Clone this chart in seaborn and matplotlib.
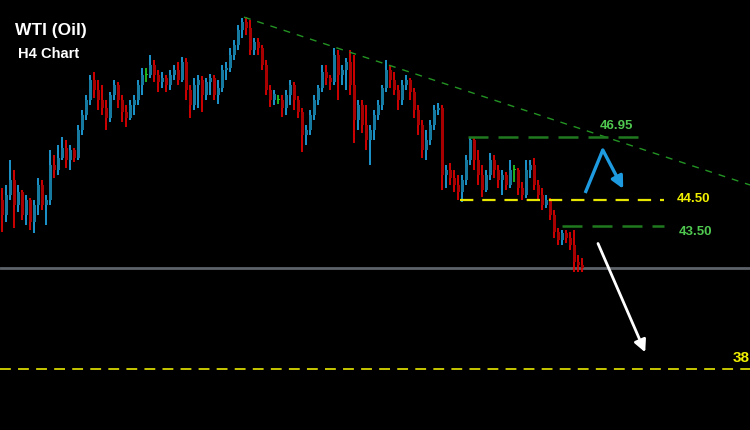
import numpy as np
import pandas as pd
import matplotlib
matplotlib.use("Agg")
import matplotlib.pyplot as plt
import seaborn as sns

# ---------------- data (WTI H4 candles) ----------------
opens = [44.52, 43.94, 44.71, 45.29, 44.33, 44.83, 43.94, 44.52, 43.67, 44.33,
         45.10, 44.33, 44.52, 45.87, 45.68, 46.14, 46.53, 46.06, 46.45, 46.14,
         47.22, 47.80, 48.38, 49.15, 48.77, 48.38, 48.07, 47.69, 48.57, 48.96,
         48.38, 47.92, 47.69, 48.19, 48.38, 48.96, 49.35, 49.35, 49.73, 49.35,
         49.07, 49.23, 48.96, 49.35, 49.54, 49.15, 49.85, 48.77, 48.19, 48.96,
         49.15, 48.57, 49.07, 49.23, 48.57, 48.84, 49.54, 49.62, 50.12, 50.50,
         51.08, 51.39, 51.16, 50.31, 50.62, 50.39, 49.73, 48.77, 48.38, 48.38,
         48.38, 48.07, 48.57, 48.96, 48.38, 47.92, 47.03, 47.22, 47.80, 48.38,
         48.84, 49.46, 49.23, 49.07, 50.12, 49.35, 49.54, 49.85, 48.96, 47.61,
         48.19, 47.42, 46.84, 47.22, 47.80, 48.19, 48.84, 49.54, 49.15, 48.77,
         48.38, 48.96, 49.15, 48.69, 48.00, 47.42, 46.45, 46.84, 47.42, 48.00,
         48.07, 45.49, 45.68, 45.37, 45.10, 44.83, 45.29, 46.06, 46.84, 46.06,
         45.49, 44.91, 45.49, 46.06, 45.68, 45.29, 45.49, 45.10, 45.68, 45.68,
         44.98, 44.71, 45.68, 45.87, 45.10, 44.71, 44.33, 44.52, 43.94, 43.28,
         42.98, 43.25, 43.05, 42.78, 42.13, 42.01]
highs = [44.98, 45.10, 46.06, 45.68, 45.10, 44.91, 44.71, 44.60, 44.52, 45.37,
         45.29, 44.71, 46.45, 46.26, 46.64, 46.95, 46.84, 46.64, 46.53, 47.42,
         48.00, 48.57, 49.35, 49.46, 49.15, 48.96, 48.38, 48.69, 49.15, 49.07,
         48.57, 48.19, 48.38, 48.57, 49.15, 49.62, 49.62, 50.12, 49.92, 49.54,
         49.46, 49.35, 49.54, 49.73, 49.85, 50.04, 50.00, 48.96, 49.23, 49.35,
         49.31, 49.23, 49.38, 49.35, 49.15, 49.73, 49.85, 50.39, 50.70, 51.27,
         51.55, 51.58, 51.47, 50.77, 50.77, 50.50, 49.92, 48.96, 48.77, 48.57,
         48.57, 48.77, 49.15, 49.07, 48.53, 48.07, 47.42, 48.00, 48.57, 48.96,
         49.73, 49.73, 49.35, 50.39, 50.31, 49.73, 50.00, 50.31, 50.12, 48.38,
         48.38, 48.19, 47.42, 48.00, 48.38, 48.96, 49.92, 49.73, 49.46, 48.96,
         49.15, 49.35, 49.23, 48.84, 48.19, 47.61, 47.22, 47.61, 48.19, 48.26,
         48.19, 45.87, 45.95, 45.68, 45.49, 45.49, 46.26, 46.95, 46.91, 46.45,
         45.87, 45.68, 46.33, 46.26, 45.87, 45.68, 45.60, 46.06, 45.87, 45.76,
         45.22, 46.06, 46.06, 46.14, 45.29, 44.98, 44.71, 44.60, 44.13, 43.44,
         43.36, 43.36, 43.28, 43.36, 42.40, 42.28]
lows = [43.28, 43.67, 44.52, 43.44, 44.06, 43.75, 43.56, 43.36, 43.25, 43.94,
        44.13, 43.56, 44.33, 45.37, 45.49, 46.06, 45.76, 45.68, 45.99, 46.06,
        47.03, 47.61, 48.19, 48.46, 48.00, 47.80, 47.22, 47.53, 48.38, 48.07,
        47.53, 47.34, 47.61, 47.80, 48.19, 48.57, 49.07, 49.23, 49.07, 48.69,
        48.84, 48.69, 48.77, 49.15, 48.96, 49.07, 48.38, 47.69, 48.00, 48.07,
        47.92, 48.38, 48.57, 48.38, 48.23, 48.69, 49.15, 49.46, 49.92, 50.31,
        50.77, 50.89, 50.12, 50.12, 50.12, 49.54, 48.57, 48.11, 48.19, 48.23,
        47.72, 47.80, 48.19, 48.00, 47.69, 46.37, 46.64, 47.03, 47.61, 48.19,
        48.69, 48.96, 48.77, 48.96, 48.38, 48.96, 48.77, 48.57, 46.72, 47.22,
        47.11, 46.45, 45.87, 46.84, 47.61, 48.00, 48.69, 48.84, 48.57, 48.00,
        48.19, 48.77, 48.38, 47.69, 47.03, 46.14, 46.06, 46.64, 47.22, 47.80,
        44.91, 44.98, 45.10, 44.83, 44.52, 44.44, 45.10, 45.87, 45.68, 45.10,
        44.64, 44.83, 45.29, 45.37, 44.98, 44.71, 44.91, 44.98, 45.22, 44.71,
        44.52, 44.60, 45.37, 44.91, 44.52, 44.13, 44.21, 43.75, 43.05, 42.78,
        42.78, 42.86, 42.59, 41.74, 41.74, 41.74]
closes = [43.94, 44.71, 45.29, 44.33, 44.83, 43.94, 44.52, 43.67, 44.33, 45.10,
          44.33, 44.52, 45.87, 45.68, 46.14, 46.53, 46.06, 46.45, 46.14, 47.22,
          47.80, 48.38, 49.15, 48.77, 48.38, 48.07, 47.69, 48.57, 48.96, 48.38,
          47.92, 47.69, 48.19, 48.38, 48.96, 49.35, 49.35, 49.73, 49.35, 49.07,
          49.23, 48.96, 49.35, 49.54, 49.15, 49.85, 48.77, 48.19, 48.96, 49.15,
          48.57, 49.07, 49.23, 48.57, 48.84, 49.54, 49.62, 50.12, 50.50, 51.08,
          51.39, 51.16, 50.31, 50.62, 50.39, 49.73, 48.77, 48.38, 48.61, 48.38,
          48.07, 48.57, 48.96, 48.38, 47.92, 47.03, 47.22, 47.80, 48.38, 48.84,
          49.46, 49.23, 49.07, 50.12, 49.35, 49.54, 49.85, 48.96, 47.61, 48.19,
          47.42, 46.84, 47.22, 47.80, 48.19, 48.84, 49.54, 49.15, 48.77, 48.38,
          48.96, 49.15, 48.69, 48.00, 47.42, 46.45, 46.84, 47.42, 48.00, 48.07,
          45.49, 45.68, 45.37, 45.10, 44.83, 45.29, 46.06, 46.84, 46.06, 45.49,
          44.91, 45.49, 46.06, 45.68, 45.29, 45.49, 45.10, 45.68, 45.68, 44.98,
          44.71, 45.68, 45.87, 45.10, 44.71, 44.33, 44.52, 43.94, 43.28, 42.98,
          43.25, 43.05, 42.78, 42.13, 42.01, 41.90]

# annotation levels / labels
level_values = [46.95, 44.50, 43.50]
level_labels = ["46.95", "44.50", "43.50"]
target_value = 38.0
target_label = "38"
title_text = "WTI (Oil)"
subtitle_text = "H4 Chart"

# ---------------- style ----------------
sns.set_theme(style="dark", rc={
    "axes.facecolor": "black",
    "figure.facecolor": "black",
    "axes.edgecolor": "black",
})
plt.rcParams["font.family"] = ["Liberation Sans", "DejaVu Sans"]

df = pd.DataFrame({"open": opens, "high": highs, "low": lows, "close": closes})
df["idx"] = np.arange(len(df))
df["dir"] = np.where(df["close"] > df["open"], "up",
                     np.where(df["close"] < df["open"], "down", "doji"))

fig = plt.figure(figsize=(7.5, 4.3), dpi=100)
ax = fig.add_axes([0, 0, 1, 1])
ax.set_facecolor("black")

XMIN, XMAX = -0.5, 187.0
YMIN, YMAX = 35.64, 52.24
ax.set_xlim(XMIN, XMAX)
ax.set_ylim(YMIN, YMAX)

wick_col = {"up": "#1ea0dc", "down": "#e00000", "doji": "#22c022"}
body_col = {"up": "#16799f", "down": "#a80000", "doji": "#22c022"}

# current-price line (behind candles)
last_price = closes[-1]
ax.axhline(last_price, color="#5c6268", lw=2.0, zorder=1)

for d in ["up", "down", "doji"]:
    sub = df[df["dir"] == d]
    ax.vlines(sub["idx"], sub["low"], sub["high"], color=wick_col[d], lw=1.3, zorder=3)
    bottoms = np.minimum(sub["open"], sub["close"])
    heights = np.abs(sub["close"] - sub["open"])
    heights = np.where(heights < 0.04, 0.04, heights)
    ax.bar(sub["idx"], heights, bottom=bottoms, width=0.75, color=body_col[d],
           edgecolor=body_col[d], linewidth=0, zorder=4)

# descending trendline from the swing high
peak_i = int(np.argmax(highs))
t_df = pd.DataFrame({"x": [peak_i - 0.5, XMAX], "y": [highs[peak_i], 45.10]})
sns.lineplot(data=t_df, x="x", y="y", ax=ax, color="#239323", lw=1.0,
             linestyle=(0, (5, 5)), zorder=5)

# horizontal levels
lvl_spans = [(116.5, 159.5), (114.5, 165.5), (140.0, 165.5)]
lvl_colors = ["#1f7a1f", "#e6e600", "#1f7a1f"]
lvl_lw = [1.8, 1.6, 1.8]
lvl_dash = [(0, (8, 4)), (0, (6, 4)), (0, (8, 4))]
for v, (x0, x1), c, lw, ls in zip(level_values, lvl_spans, lvl_colors, lvl_lw, lvl_dash):
    l_df = pd.DataFrame({"x": [x0, x1], "y": [v, v]})
    sns.lineplot(data=l_df, x="x", y="y", ax=ax, color=c, lw=lw, linestyle=ls, zorder=5)

# label texts
ax.text(153.5, 47.38, level_labels[0], color="#4fc84f", fontsize=9.5,
        fontweight="bold", ha="center", va="center", zorder=6)
ax.text(172.8, 44.55, level_labels[1], color="#f0f000", fontsize=9.5,
        fontweight="bold", ha="center", va="center", zorder=6)
ax.text(173.3, 43.30, level_labels[2], color="#4fc84f", fontsize=9.5,
        fontweight="bold", ha="center", va="center", zorder=6)

# target level
tg_df = pd.DataFrame({"x": [XMIN, XMAX], "y": [target_value, target_value]})
sns.lineplot(data=tg_df, x="x", y="y", ax=ax, color="#d6d600", lw=1.3,
             linestyle=(0, (6, 4)), zorder=5)
ax.text(182.6, 38.43, target_label, color="#f0f000", fontsize=11,
        fontweight="bold", ha="left", va="center", zorder=6)

# blue scenario arrow (up then down)
ax.plot([145.8, 150.2], [44.79, 46.45], color="#1e9be0", lw=2.4,
        solid_capstyle="butt", zorder=6)
ax.annotate("", xy=(155.3, 44.95), xytext=(150.2, 46.45),
            arrowprops=dict(arrowstyle="-|>,head_length=0.6,head_width=0.3",
                            color="#1e9be0", lw=2.4, shrinkA=0, shrinkB=0), zorder=6)

# white arrow to target
ax.annotate("", xy=(160.8, 38.64), xytext=(149.0, 42.84),
            arrowprops=dict(arrowstyle="-|>,head_length=0.6,head_width=0.3",
                            color="white", lw=2.0, shrinkA=0, shrinkB=0), zorder=6)

# titles
ax.text(0.02, 0.93, title_text, transform=ax.transAxes, color="white",
        fontsize=12.5, fontweight="bold", ha="left", va="center")
ax.text(0.024, 0.875, subtitle_text, transform=ax.transAxes, color="white",
        fontsize=10.5, fontweight="bold", ha="left", va="center")

ax.set_xticks([])
ax.set_yticks([])
ax.set_xlabel("")
ax.set_ylabel("")
for s in ax.spines.values():
    s.set_visible(False)
if ax.get_legend() is not None:
    ax.get_legend().remove()

fig.savefig("out.png", dpi=100, facecolor="black")
